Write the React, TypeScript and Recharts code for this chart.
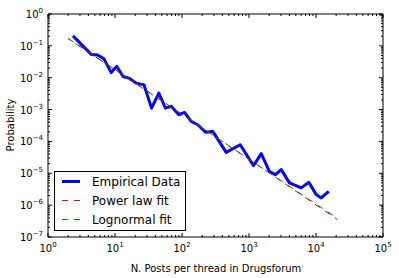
import { LineChart, Line, XAxis, YAxis, Customized } from "recharts";

// binned empirical pdf
const empiricalX = [
  2.36, 4.41, 5.48, 6.85, 8.77, 10.6, 13.2, 16.5, 20.7, 27.1, 35.1, 45.1, 56.7,
  69.0, 89.6, 109, 137, 172, 224, 288, 457, 739, 1167, 1521, 2023, 2486, 3027,
  4018, 6014, 7812, 10070, 11960, 15520,
];
const empiricalY = [
  0.205, 0.054, 0.052, 0.039, 0.0145, 0.0227, 0.0109, 0.0095, 0.00676, 0.00597,
  0.00111, 0.00328, 0.00111, 0.00127, 0.000687, 0.000811, 0.000424, 0.000334,
  0.000195, 0.000206, 4.53e-5, 7.89e-5, 1.74e-5, 4.12e-5, 1.13e-5, 9.07e-6,
  1.3e-5, 4.99e-6, 3.48e-6, 5.21e-6, 2.14e-6, 1.69e-6, 2.72e-6,
];

const powerLawX = [2, 20, 200, 2000, 21000];
const powerLawY = [0.171, 0.0067, 0.000264, 1.04e-5, 3.8e-7];

const lognormalX = [2, 20, 200, 2000, 21000];
const lognormalY = [0.166, 0.0069, 0.00027, 1.03e-5, 3.5e-7];

const xMajor = [1, 10, 100, 1000, 10000, 100000];
const yMajor = [1e-7, 1e-6, 1e-5, 1e-4, 1e-3, 1e-2, 1e-1, 1];
const minorSteps = [2, 3, 4, 5, 6, 7, 8, 9];

const legendItems = [
  { name: "Empirical Data", color: "#0000ff", width: 3, dash: undefined },
  { name: "Power law fit", color: "#ff0000", width: 1, dash: "6 6" },
  { name: "Lognormal fit", color: "#008000", width: 1, dash: "6 6" },
];

const withMinors = (majors: number[]) =>
  majors.flatMap((m, i) =>
    i === majors.length - 1 ? [m] : [m, ...minorSteps.map((s) => s * m)]
  );

const xTicks = withMinors(xMajor);
const yTicks = withMinors(yMajor);

const empirical = empiricalX.map((x, i) => ({ x, y: empiricalY[i] }));
const powerLaw = powerLawX.map((x, i) => ({ x, y: powerLawY[i] }));
const lognormal = lognormalX.map((x, i) => ({ x, y: lognormalY[i] }));

const FONT = "DejaVu Sans";

function expOf(v: number) {
  const l = Math.log10(v);
  const e = Math.round(l);
  return { e, major: Math.abs(l - e) < 1e-6 };
}

const expText = (e: number) => (e < 0 ? `\u2212${-e}` : `${e}`);

const BottomTick = (props: any) => {
  const { x, y, payload } = props;
  const { e, major } = expOf(payload.value);
  return (
    <g>
      <line x1={x} x2={x} y1={y} y2={y - (major ? 4 : 2)} stroke="#000" />
      {major && (
        <text x={x} y={y + 15} textAnchor="middle" fontSize={10} fontFamily={FONT} fill="#000">
          10
          <tspan dy={-5} fontSize={7}>
            {expText(e)}
          </tspan>
        </text>
      )}
    </g>
  );
};

const TopTick = (props: any) => {
  const { x, y, payload } = props;
  const { major } = expOf(payload.value);
  return <line x1={x} x2={x} y1={y} y2={y + (major ? 4 : 2)} stroke="#000" />;
};

const LeftTick = (props: any) => {
  const { x, y, payload } = props;
  const { e, major } = expOf(payload.value);
  return (
    <g>
      <line x1={x} x2={x + (major ? 4 : 2)} y1={y} y2={y} stroke="#000" />
      {major && (
        <text x={x - 5} y={y + 4} textAnchor="end" fontSize={10} fontFamily={FONT} fill="#000">
          10
          <tspan dy={-5} fontSize={7}>
            {expText(e)}
          </tspan>
        </text>
      )}
    </g>
  );
};

const RightTick = (props: any) => {
  const { x, y, payload } = props;
  const { major } = expOf(payload.value);
  return <line x1={x} x2={x - (major ? 4 : 2)} y1={y} y2={y} stroke="#000" />;
};

const Overlay = () => (
  <g fontFamily={FONT}>
    <text x={216} y={272} textAnchor="middle" fontSize={10} fill="#000">
      N. Posts per thread in Drugsforum
    </text>
    <text transform="translate(14,125) rotate(-90)" textAnchor="middle" fontSize={10} fill="#000">
      Probability
    </text>
    <rect x={54.5} y={171.5} width={131} height={59} fill="#fff" stroke="#000" />
    {legendItems.map((it, i) => {
      const cy = 181.5 + i * 19;
      return (
        <g key={it.name}>
          <line
            x1={62}
            x2={80}
            y1={cy}
            y2={cy}
            stroke={it.color}
            strokeWidth={it.width}
            strokeDasharray={it.dash}
          />
          <text x={92} y={cy + 4.5} fontSize={12} fill="#000">
            {it.name}
          </text>
        </g>
      );
    })}
  </g>
);

const axisCommon = {
  type: "number" as const,
  scale: "log" as const,
  interval: 0 as const,
  tickSize: 0,
  tickMargin: 0,
  tickLine: false,
  axisLine: { stroke: "#000" },
  allowDataOverflow: true,
};

export default function App() {
  return (
    <div style={{ position: "absolute", left: 0, top: 0, background: "#fff" }}>
      <LineChart
        width={399}
        height={278}
        margin={{ top: 0, right: 0, bottom: 0, left: 0 }}
        style={{ fontFamily: FONT }}
      >
        <XAxis
          {...axisCommon}
          xAxisId="b"
          dataKey="x"
          domain={[1, 100000]}
          ticks={xTicks}
          height={41}
          tick={<BottomTick />}
        />
        <XAxis
          {...axisCommon}
          xAxisId="t"
          orientation="top"
          dataKey="x"
          domain={[1, 100000]}
          ticks={xTicks}
          height={14}
          tick={<TopTick />}
        />
        <YAxis
          {...axisCommon}
          yAxisId="l"
          domain={[1e-7, 1]}
          ticks={yTicks}
          width={48}
          tick={<LeftTick />}
        />
        <YAxis
          {...axisCommon}
          yAxisId="r"
          orientation="right"
          domain={[1e-7, 1]}
          ticks={yTicks}
          width={16}
          tick={<RightTick />}
        />
        <Line
          xAxisId="b"
          yAxisId="l"
          data={empirical}
          dataKey="y"
          stroke="#0000ff"
          strokeWidth={3}
          strokeLinejoin="round"
          dot={false}
          isAnimationActive={false}
        />
        <Line
          xAxisId="b"
          yAxisId="l"
          data={powerLaw}
          dataKey="y"
          stroke="#ff0000"
          strokeWidth={1}
          strokeDasharray="6 6"
          dot={false}
          isAnimationActive={false}
        />
        <Line
          xAxisId="b"
          yAxisId="l"
          data={lognormal}
          dataKey="y"
          stroke="#008000"
          strokeWidth={1}
          strokeDasharray="6 6"
          strokeDashoffset={3}
          dot={false}
          isAnimationActive={false}
        />
        <Customized component={Overlay} />
      </LineChart>
    </div>
  );
}
